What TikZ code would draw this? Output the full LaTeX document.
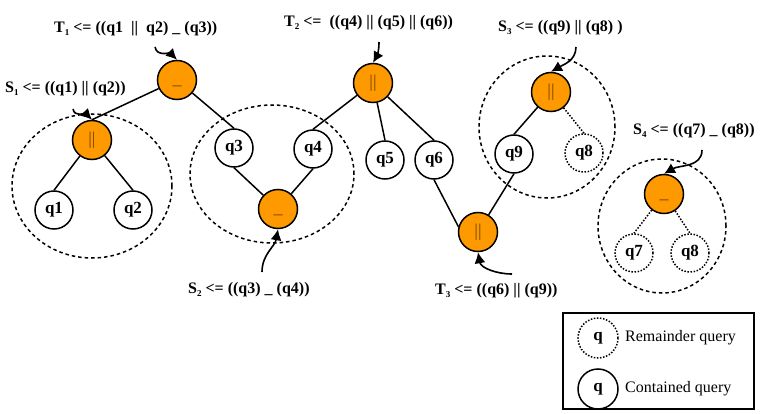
\documentclass[tikz,border=0pt]{standalone}
\usepackage{fontspec}
\setmainfont{Liberation Serif}
\usetikzlibrary{arrows.meta,shapes.geometric}
\definecolor{opfill}{RGB}{255,153,0}
\definecolor{optext}{RGB}{115,70,0}
\newcommand{\lsub}[1]{\raisebox{-0.35ex}{\fontsize{9}{9}\selectfont #1}}
\begin{document}
\begin{tikzpicture}[x=1pt,y=-1pt,
  qn/.style={circle,draw,line width=1.5pt,minimum size=38pt,inner sep=0pt,fill=white,
    font=\fontsize{17}{17}\selectfont\bfseries},
  rq/.style={qn,dash pattern=on 1.5pt off 1.6pt},
  op/.style={circle,draw,line width=1.5pt,minimum size=39pt,inner sep=0pt,fill=opfill,
    text=optext,font=\fontsize{18}{18}\selectfont},
  edge/.style={line width=1.5pt},
  redge/.style={line width=1.5pt,dash pattern=on 1.5pt off 1.6pt},
  grp/.style={ellipse,draw,line width=1.5pt,dash pattern=on 3.5pt off 3pt,inner sep=0pt},
  lab/.style={anchor=west,inner sep=0pt,font=\fontsize{16}{19}\selectfont\bfseries},
  arr/.style={line width=1.6pt,-{Latex[length=11pt,width=11pt]}},
  leg/.style={anchor=west,inner sep=0pt,font=\fontsize{16}{19}\selectfont}
]
\useasboundingbox (0,0) rectangle (765,414);

% group ellipses
\node[grp,minimum width=160pt,minimum height=144pt] (g1) at (92,186) {};
\node[grp,minimum width=164pt,minimum height=138pt] (g2) at (272,174) {};
\node[grp,minimum width=136pt,minimum height=142pt] (g3) at (547,127) {};
\node[grp,minimum width=128pt,minimum height=134pt] (g4) at (662,226) {};

% operator nodes
\node[op] (T1) at (177,80) {\vphantom{||}\_};
\node[op] (S1) at (92,140) {||};
\node[op] (S2) at (278,209) {\vphantom{||}\_};
\node[op] (T2) at (373,83) {||};
\node[op] (T3) at (478,232) {||};
\node[op] (S3) at (551,92) {||};
\node[op] (S4) at (664,194) {\vphantom{||}\_};

% query nodes
\node[qn] (q1) at (54,210) {q1};
\node[qn] (q2) at (133,210) {q2};
\node[qn] (q3) at (234,148) {q3};
\node[qn] (q4) at (313,149) {q4};
\node[qn] (q5) at (385,160) {q5};
\node[qn] (q6) at (434,160) {q6};
\node[qn] (q9) at (514,154) {q9};
\node[rq] (q8a) at (584,153) {q8};
\node[rq] (q7) at (634,253) {q7};
\node[rq] (q8b) at (690,253) {q8};

% edges
\draw[edge] (T1) -- (S1.north);
\draw[edge] (T1) -- (q3.north);
\draw[edge] (S1) -- (q1.north);
\draw[edge] (S1) -- (q2.north);
\draw[edge] (q3.south) -- (S2);
\draw[edge] (q4.south) -- (S2);
\draw[edge] (T2) -- (q4.north);
\draw[edge] (T2) -- (q5.north);
\draw[edge] (T2) -- (q6.north);
\draw[edge] (q6.south) -- (T3.165);
\draw[edge] (q9.south) -- (T3);
\draw[edge] (S3) -- (q9.north);
\draw[redge] (S3) -- (q8a.north);
\draw[redge] (S4) -- (q7.north);
\draw[redge] (S4) -- (q8b.north);

% labels
\node[lab] (lT1) at (54,29) {T\lsub{1} <= ((q1~~||~~q2) \_ (q3))};
\node[lab] (lS1) at (5,89) {S\lsub{1} <= ((q1) || (q2))};
\node[lab] (lT2) at (284,23) {T\lsub{2} <=~~((q4) || (q5) || (q6))};
\node[lab] (lS3) at (498,28) {S\lsub{3} <= ((q9) || (q8) )};
\node[lab] (lS4) at (633,131) {S\lsub{4} <= ((q7) \_ (q8))};
\node[lab] (lS2) at (188,290) {S\lsub{2} <= ((q3) \_ (q4))};
\node[lab] (lT3) at (435,291) {T\lsub{3} <= ((q6) || (q9))};

% label arrows
\coordinate (aT1) at (155,47);
\coordinate (aS1) at (73,109);
\coordinate (aT2) at (379,42);
\coordinate (aS3) at (576,47);
\coordinate (aS4) at (702,150);
\coordinate (aS2) at (262,272);
\coordinate (aT3) at (512,274);
\draw[arr] (aT1) to[out=-80,in=135] (T1.north);
\draw[arr] (aS1) to[out=-80,in=135] (S1.north);
\draw[arr] (aT2) to[out=-90,in=60] (T2.north);
\draw[arr] (aS3) to[out=-90,in=30] (S3.north);
\draw[arr] (aS4) to[out=-90,in=30] (S4.north);
\draw[arr] (aS2) to[out=90,in=-100] (S2.south);
\draw[arr] (aT3) to[out=180,in=-80] (T3.south);

% legend
\node[draw,line width=1.5pt,minimum width=191pt,minimum height=96pt,inner sep=0pt] (legbox) at (658.5,361) {};
\node[rq,minimum size=40pt] (lq1) at (598,338) {q};
\node[qn,minimum size=40pt] (lq2) at (598,389) {q};
\node[leg] (lt1) at (625,338) {Remainder query};
\node[leg] (lt2) at (625,389) {Contained query};
\end{tikzpicture}
\end{document}
